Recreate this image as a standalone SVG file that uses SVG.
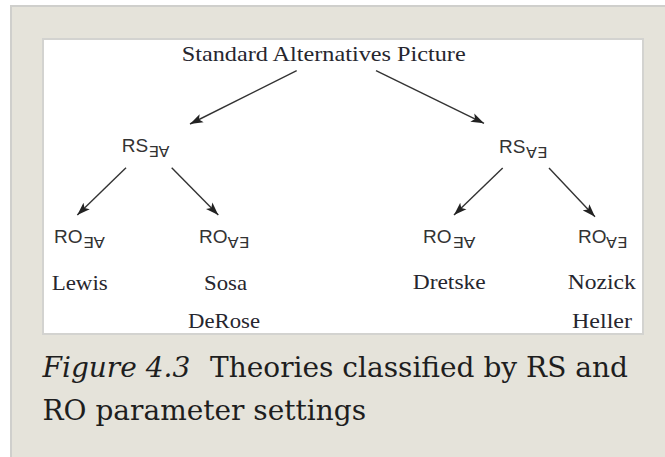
<svg xmlns="http://www.w3.org/2000/svg" width="665" height="457" viewBox="0 0 665 457">
<style>
.serif{font-family:"Liberation Serif","Times New Roman",serif;font-size:22px;fill:#26262e}
.sans{font-family:"Liberation Sans","DejaVu Sans",Arial,sans-serif;font-size:19px;fill:#333}
.sub{font-family:"DejaVu Sans","Liberation Sans",sans-serif;font-size:15px;fill:#333}
.cap{font-family:"DejaVu Serif",serif;font-size:28px;fill:#1e1e1e}
.conn line{stroke:#333;stroke-width:1.4;fill:none}
</style>
<defs>
<marker id="ah" markerUnits="userSpaceOnUse" markerWidth="14" markerHeight="10" refX="13" refY="5" orient="auto">
<path d="M0,0.5 L13,5 L0,9.5 L3,5 Z" fill="#222"/>
</marker>
</defs>
<rect x="0" y="0" width="665" height="457" fill="#fff"/>
<rect x="11" y="6" width="700" height="500" fill="#e5e3da" stroke="#cfcfcc" stroke-width="2"/>
<rect x="43" y="39" width="600" height="295" fill="#fff" stroke="#d3d3d0" stroke-width="2"/>

<g id="title"><text class="serif" x="181.7" y="60.7" font-size="21" textLength="284" lengthAdjust="spacingAndGlyphs">Standard Alternatives Picture</text></g>

<g id="rs-left"><text class="sans" x="121.7" y="152">RS</text><text class="sub" x="148.5" y="157" textLength="21" lengthAdjust="spacingAndGlyphs">∃∀</text></g>
<g id="rs-right"><text class="sans" x="499" y="152.5">RS</text><text class="sub" x="526" y="157.5" textLength="21" lengthAdjust="spacingAndGlyphs">∀∃</text></g>

<g id="ro-1"><text class="sans" x="54" y="243">RO</text><text class="sub" x="83" y="248" textLength="22" lengthAdjust="spacingAndGlyphs">∃∀</text></g>
<g id="ro-2"><text class="sans" x="199" y="243">RO</text><text class="sub" x="227.5" y="248" textLength="21.5" lengthAdjust="spacingAndGlyphs">∀∃</text></g>
<g id="ro-3"><text class="sans" x="423" y="243">RO</text><text class="sub" x="452.5" y="248" textLength="23" lengthAdjust="spacingAndGlyphs">∃∀</text></g>
<g id="ro-4"><text class="sans" x="578" y="243">RO</text><text class="sub" x="606" y="248" textLength="21" lengthAdjust="spacingAndGlyphs">∀∃</text></g>

<g id="lewis"><text class="serif" x="51.7" y="290" textLength="56" lengthAdjust="spacingAndGlyphs">Lewis</text></g>
<g id="sosa"><text class="serif" x="204" y="290" textLength="43" lengthAdjust="spacingAndGlyphs">Sosa</text><text class="serif" x="188" y="328" textLength="72" lengthAdjust="spacingAndGlyphs">DeRose</text></g>
<g id="dretske"><text class="serif" x="412.7" y="289" textLength="73" lengthAdjust="spacingAndGlyphs">Dretske</text></g>
<g id="nozick"><text class="serif" x="567.7" y="289" textLength="68" lengthAdjust="spacingAndGlyphs">Nozick</text><text class="serif" x="572" y="328" textLength="60" lengthAdjust="spacingAndGlyphs">Heller</text></g>

<g id="connectors" class="conn">
<line x1="296.7" y1="70.7" x2="190" y2="124" marker-end="url(#ah)"/>
<line x1="376" y1="70.7" x2="484" y2="123.3" marker-end="url(#ah)"/>
<line x1="126" y1="167.7" x2="77.3" y2="215" marker-end="url(#ah)"/>
<line x1="171.7" y1="167.7" x2="218.3" y2="215" marker-end="url(#ah)"/>
<line x1="502.7" y1="168" x2="454" y2="215" marker-end="url(#ah)"/>
<line x1="549" y1="168" x2="595" y2="216.7" marker-end="url(#ah)"/>
</g>

<g id="caption">
<text class="cap" x="42.5" y="377"><tspan font-style="italic">Figure 4.3</tspan><tspan x="210">Theories classified by RS and</tspan></text>
<text class="cap" x="42.5" y="420">RO parameter settings</text>
</g>
</svg>
